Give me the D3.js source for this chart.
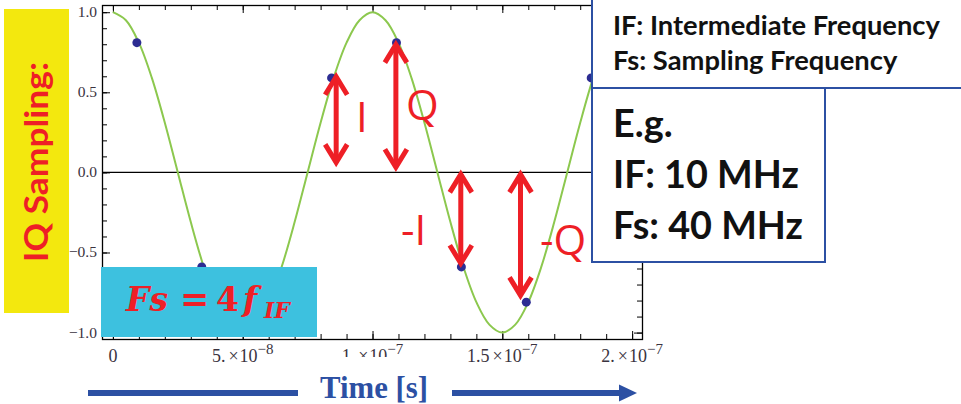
<!DOCTYPE html>
<html>
<head>
<meta charset="utf-8">
<script src="https://cdn.jsdelivr.net/npm/d3@7"></script>
<style>
  html, body { margin: 0; padding: 0; background: #ffffff; }
  svg { display: block; }
</style>
</head>
<body>
<svg id="chart" width="961" height="404"></svg>
<script>
// ---- Data -------------------------------------------------------------
// 10 MHz IF carrier, time in nanoseconds
const curveTimeNs = [0,5,10,15,20,25,30,35,40,45,50,55,60,65,70,75,80,85,90,95,100,
                     105,110,115,120,125,130,135,140,145,150,155,160,165,170,175,180,185,190,195,200];
const curveValue  = [1.00,0.95,0.81,0.59,0.31,0.00,-0.31,-0.59,-0.81,-0.95,-1.00,
                     -0.95,-0.81,-0.59,-0.31,0.00,0.31,0.59,0.81,0.95,1.00,
                     0.95,0.81,0.59,0.31,0.00,-0.31,-0.59,-0.81,-0.95,-1.00,
                     -0.95,-0.81,-0.59,-0.31,0.00,0.31,0.59,0.81,0.95,1.00];

// Samples taken at Fs = 40 MHz
const sampleTimeNs = [10,35,60,85,110,135,160,185];
const sampleValue  = [0.81,-0.59,-0.81,0.59,0.81,-0.59,-0.81,0.59];

// I / Q / -I / -Q markers
const arrowLabels = ["I","Q","-I","-Q"];
const arrowTimeNs = [86,109,134,157];
const arrowFrom   = [0.05,0.02,0.00,0.00];
const arrowTo     = [0.61,0.81,-0.58,-0.78];

// Axis ticks
const xMajorTicksNs = [0,50,100,150,200];
const xMinorTicksNs = d3.range(0, 201, 10);
const xTickMantissa = ["0","5.","1.","1.5","2."];
const xTickExponent = ["","\u22128","\u22127","\u22127","\u22127"];
const yMajorTicks = [-1,-0.5,0,0.5,1];
const yMinorTicks = d3.range(-10, 11).map(d => d / 10);
const yTickLabels = ["\u22121.0","\u22120.5","0.0","0.5","1.0"];

// Annotation text
const titleText = "IQ Sampling:";
const legendLines = ["IF: Intermediate Frequency","Fs: Sampling Frequency"];
const exampleLines = ["E.g.","IF: 10 MHz","Fs: 40 MHz"];
const axisTitle = "Time [s]";

// ---- Layout -----------------------------------------------------------
const RED = "#ee1f26", BLUE = "#2c50a3", GREEN = "#8cc84e", DOT = "#2c2c92";
const plot = { left: 102, right: 642, top: 5, bottom: 339 };

const svg = d3.select("#chart");
const x = d3.scaleLinear().domain([-4.2, 203.8]).range([plot.left, plot.right]);
const y = d3.scaleLinear().domain([-1.04, 1.045]).range([plot.bottom, plot.top]);

// scale a label's font so it spans a given width
function fitWidth(sel, width) {
  const fs = parseFloat(sel.attr("font-size"));
  const w = sel.node().getComputedTextLength();
  sel.attr("font-size", (fs * width / w).toFixed(2));
  return fs * width / w;
}

// ---- Plot frame & ticks -----------------------------------------------
const gAxes = svg.append("g").attr("stroke-width", 1);

function tickAxis(axis, tr, values, size) {
  const g = gAxes.append("g").attr("transform", tr)
    .call(axis.tickValues(values).tickSize(size).tickFormat(""));
  g.select(".domain").remove();
  g.selectAll("line").attr("stroke", "#000");
}
tickAxis(d3.axisBottom(x), `translate(0,${plot.bottom})`, xMinorTicksNs, -5);
tickAxis(d3.axisBottom(x), `translate(0,${plot.bottom})`, xMajorTicksNs, -8);
tickAxis(d3.axisTop(x), `translate(0,${plot.top})`, xMinorTicksNs, -5);
tickAxis(d3.axisTop(x), `translate(0,${plot.top})`, xMajorTicksNs, -8);
tickAxis(d3.axisLeft(y), `translate(${plot.left},0)`, yMinorTicks, -5);
tickAxis(d3.axisLeft(y), `translate(${plot.left},0)`, yMajorTicks, -8);
tickAxis(d3.axisRight(y), `translate(${plot.right},0)`, yMinorTicks, -5);
tickAxis(d3.axisRight(y), `translate(${plot.right},0)`, yMajorTicks, -8);

gAxes.append("rect")
  .attr("x", plot.left + 0.5).attr("y", plot.top + 0.5)
  .attr("width", plot.right - plot.left).attr("height", plot.bottom - plot.top)
  .attr("fill", "none").attr("stroke", "#000").attr("stroke-width", 1.3);

// y tick labels
gAxes.selectAll("text.ylab").data(yMajorTicks).join("text")
  .attr("class", "ylab")
  .attr("x", plot.left - 5).attr("y", d => y(d) + 5)
  .attr("text-anchor", "end")
  .attr("font-family", "Liberation Serif, serif").attr("font-size", 15.5)
  .attr("fill", "#3a3340")
  .text((d, i) => yTickLabels[i]);

// x tick labels in Mathematica style: m. × 10^e
xMajorTicksNs.forEach((t, i) => {
  const txt = gAxes.append("text")
    .attr("x", x(t)).attr("y", 362)
    .attr("text-anchor", "middle")
    .attr("font-family", "Liberation Serif, serif").attr("font-size", 18)
    .attr("fill", "#3a3340");
  txt.append("tspan").text(xTickMantissa[i]);
  if (xTickExponent[i]) {
    txt.append("tspan").attr("dx", 3).text("\u00d7");
    txt.append("tspan").attr("dx", 1).text("10");
    txt.append("tspan").attr("dy", -8).attr("font-size", 15).text(xTickExponent[i]);
  }
});

// zero line
gAxes.append("line")
  .attr("x1", plot.left).attr("x2", plot.right)
  .attr("y1", y(0)).attr("y2", y(0))
  .attr("stroke", "#000").attr("stroke-width", 1.3);

// ---- Carrier & samples ------------------------------------------------
const line = d3.line()
  .x((d, i) => x(curveTimeNs[i]))
  .y(d => y(d))
  .curve(d3.curveCatmullRom.alpha(0.5));

svg.append("path")
  .attr("d", line(curveValue))
  .attr("fill", "none").attr("stroke", GREEN).attr("stroke-width", 2);

svg.selectAll("circle.sample").data(sampleValue).join("circle")
  .attr("class", "sample")
  .attr("cx", (d, i) => x(sampleTimeNs[i]) - 2)
  .attr("cy", d => y(d))
  .attr("r", 4.5).attr("fill", DOT);

// ---- I/Q arrows -------------------------------------------------------
const gArrows = svg.append("g")
  .attr("stroke", RED).attr("stroke-width", 5).attr("fill", "none")
  .attr("stroke-linejoin", "miter");

function chevron(cx, cy, dir) {
  // dir = -1 points up, +1 points down
  return `M${cx - 11},${cy - dir * 18}L${cx},${cy}L${cx + 11},${cy - dir * 18}`;
}
arrowLabels.forEach((lab, i) => {
  const ax = x(arrowTimeNs[i]);
  const y1 = y(arrowFrom[i]), y2 = y(arrowTo[i]);
  const top = Math.min(y1, y2) + 2, bot = Math.max(y1, y2) - 2;
  gArrows.append("line").attr("x1", ax).attr("x2", ax).attr("y1", top).attr("y2", bot);
  gArrows.append("path").attr("d", chevron(ax, top, -1));
  gArrows.append("path").attr("d", chevron(ax, bot, 1));
});

// arrow captions
const captionPos = [
  { x: 356, y: 132 },
  { x: 406, y: 120 },
  { x: 401, y: 245 },
  { x: 540, y: 255 }
];
svg.selectAll("text.cap").data(arrowLabels).join("text")
  .attr("class", "cap")
  .attr("x", (d, i) => captionPos[i].x).attr("y", (d, i) => captionPos[i].y)
  .attr("font-family", "Open Sans, sans-serif")
  .attr("font-size", 42)
  .attr("fill", RED)
  .text(d => d);

// ---- Side title -------------------------------------------------------
svg.append("rect")
  .attr("x", 4).attr("y", 9).attr("width", 65).attr("height", 304)
  .attr("fill", "#f3e80e");
svg.append("text")
  .attr("transform", "translate(48,262) rotate(-90)")
  .attr("font-family", "Lato, sans-serif").attr("font-weight", 700)
  .attr("font-size", 32).attr("fill", RED)
  .attr("textLength", 200).attr("lengthAdjust", "spacingAndGlyphs")
  .text(titleText);

// ---- Formula box ------------------------------------------------------
svg.append("rect")
  .attr("x", 101).attr("y", 267).attr("width", 216).attr("height", 70)
  .attr("fill", "#3dc1df");
const formula = svg.append("text")
  .attr("y", 311)
  .attr("font-family", "DejaVu Serif, serif").attr("font-weight", 700)
  .attr("font-style", "italic").attr("font-size", 33).attr("fill", RED);
formula.append("tspan").attr("x", 126).text("Fs");
formula.append("tspan").attr("x", 180).attr("font-style", "normal")
  .attr("font-size", 35).text("=");
formula.append("tspan").attr("x", 216).attr("font-style", "normal").text("4");
formula.append("tspan").attr("x", 243).text("f");
formula.append("tspan").attr("x", 264).attr("dy", 7).attr("font-size", 22).text("IF");

// ---- Definition boxes -------------------------------------------------
svg.append("rect")
  .attr("x", 592).attr("y", -5).attr("width", 380).attr("height", 93)
  .attr("fill", "#fff").attr("stroke", BLUE).attr("stroke-width", 2);
svg.append("rect")
  .attr("x", 592).attr("y", 88).attr("width", 233).attr("height", 174)
  .attr("fill", "#fff").attr("stroke", BLUE).attr("stroke-width", 2);

const legend = svg.selectAll("text.leg").data(legendLines).join("text")
  .attr("class", "leg")
  .attr("x", 613).attr("y", (d, i) => 35 + i * 35)
  .attr("font-family", "Lato, sans-serif").attr("font-weight", 700)
  .attr("font-size", 22).attr("fill", "#111")
  .text(d => d);
const legSize = fitWidth(d3.select(legend.nodes()[0]), 327);
legend.attr("font-size", legSize.toFixed(2));

const example = svg.selectAll("text.ex").data(exampleLines).join("text")
  .attr("class", "ex")
  .attr("x", 613).attr("y", (d, i) => 137 + i * 51)
  .attr("font-family", "Lato, sans-serif").attr("font-weight", 700)
  .attr("font-size", 36).attr("fill", "#111")
  .text(d => d);
const exSize = fitWidth(d3.select(example.nodes()[2]), 190);
example.attr("font-size", exSize.toFixed(2));

// ---- Time axis caption ------------------------------------------------
svg.append("rect")
  .attr("x", 300).attr("y", 357).attr("width", 148).attr("height", 47)
  .attr("fill", "#fff");
const tcap = svg.append("text")
  .attr("x", 320).attr("y", 398)
  .attr("font-family", "Liberation Serif, serif").attr("font-weight", 700)
  .attr("font-size", 30).attr("fill", BLUE)
  .text(axisTitle);
fitWidth(tcap, 108);

svg.append("line")
  .attr("x1", 88).attr("x2", 298).attr("y1", 393).attr("y2", 393)
  .attr("stroke", BLUE).attr("stroke-width", 6);
svg.append("line")
  .attr("x1", 452).attr("x2", 622).attr("y1", 393).attr("y2", 393)
  .attr("stroke", BLUE).attr("stroke-width", 6);
svg.append("path")
  .attr("d", "M619,384.5L637,393L619,401.5Z")
  .attr("fill", BLUE);
</script>
</body>
</html>
